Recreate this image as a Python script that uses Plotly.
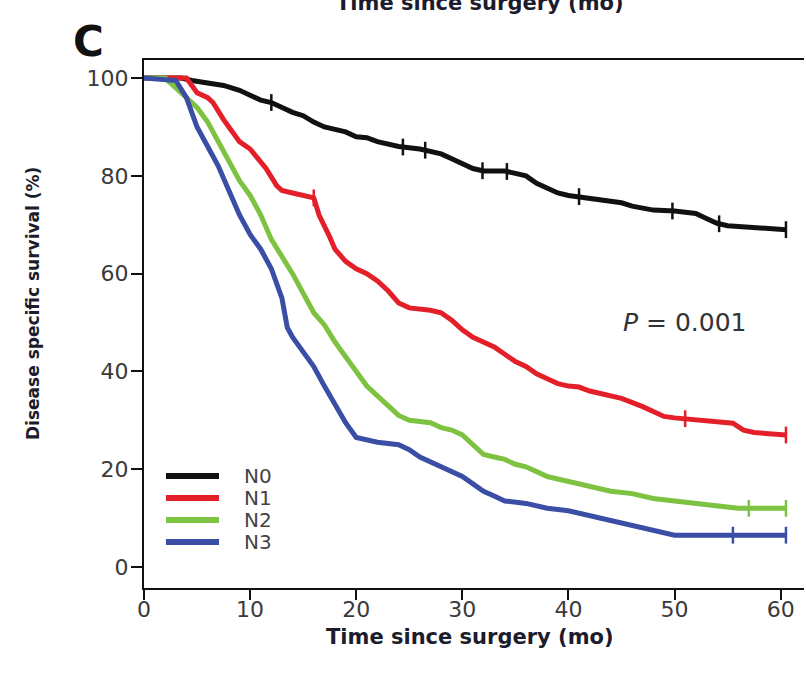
import plotly.graph_objects as go

# Kaplan-Meier estimates of disease specific survival (%) by nodal stage
n0_t = [0, 2, 3.5, 4.5, 6, 7.5, 9, 10, 11, 12, 13, 14, 15, 16, 17, 18, 19, 20, 21, 22, 23, 24,
        26, 27, 28, 29, 30, 31, 32, 34, 35, 36, 37, 38, 39, 40, 42, 44, 45, 46, 47, 48, 50, 51,
        52, 53, 54, 55, 57, 58, 60.5]
n0_s = [100, 100, 100, 99.5, 99, 98.5, 97.5, 96.5, 95.5, 95, 94, 93, 92.3, 91, 90, 89.5, 89, 88,
        87.8, 87, 86.5, 86, 85.5, 85, 84.5, 83.5, 82.5, 81.5, 81, 81, 80.5, 80, 78.5, 77.5, 76.5,
        76, 75.5, 75, 74.5, 73.8, 73.5, 73, 72.8, 72.5, 72.3, 71.3, 70.3, 69.8, 69.5, 69.2, 69]

n1_t = [0, 4, 5, 6, 6.5, 7, 7.5, 8, 9, 10, 11, 11.5, 12.5, 13, 14, 15, 16, 16.5, 17, 17.5, 18,
        19, 20, 21, 22, 23, 24, 25, 27, 28, 29, 30, 31, 32, 33, 34, 35, 36, 37, 38, 39, 40, 41,
        42, 43, 44, 45, 47, 49, 50, 53, 55.5, 56.5, 57.5, 60.5]
n1_s = [100, 100, 97, 96, 95, 93, 91.5, 90, 87, 85.5, 83, 81.5, 78, 77, 76.5, 76, 75.5, 72, 70,
        67.5, 65, 62.5, 61, 60, 58.5, 56.5, 54, 53, 52.5, 52, 50.5, 48.5, 47, 46, 45, 43.5, 42,
        41, 39.5, 38.5, 37.5, 37, 36.8, 36, 35.5, 35, 34.5, 32.8, 30.8, 30.5, 30, 29.4, 28, 27.5,
        27]

n2_t = [0, 2, 3, 4, 5, 6, 7, 8, 9, 10, 11, 12, 13, 14, 15, 16, 17, 18, 19, 20, 21, 22, 23, 24,
        25, 27, 28, 29, 30, 31, 32, 33, 34, 35, 36, 37, 38, 39, 40, 42, 44, 46, 48, 50, 52, 54,
        56, 60.5]
n2_s = [100, 100, 98, 96, 94, 91, 87, 83, 79, 76, 72, 67, 63.5, 60, 56, 52, 49.5, 46, 43, 40,
        37, 35, 33, 31, 30, 29.5, 28.5, 28, 27, 25, 23, 22.5, 22, 21, 20.5, 19.5, 18.5, 18, 17.5,
        16.5, 15.5, 15, 14, 13.5, 13, 12.5, 12, 12]

n3_t = [0, 3, 4, 4.5, 5, 6, 7, 8, 9, 10, 11, 12, 13, 13.5, 14, 15, 16, 17, 18, 19, 20, 21, 22,
        24, 25, 26, 27, 28, 29, 30, 31, 32, 33, 34, 36, 38, 40, 42, 44, 46, 48, 50, 60.5]
n3_s = [100, 99.5, 96, 93, 90, 86, 82, 77, 72, 68, 65, 61, 55, 49, 47, 44, 41, 37, 33, 29.5,
        26.5, 26, 25.5, 25, 24, 22.5, 21.5, 20.5, 19.5, 18.5, 17, 15.5, 14.5, 13.5, 13, 12, 11.5,
        10.5, 9.5, 8.5, 7.5, 6.5, 6.5]

# censored observations (months)
n0_cens = [12, 24.4, 26.5, 31.9, 34.2, 41, 49.8, 54.2, 60.5]
n1_cens = [16, 51, 60.5]
n2_cens = [57, 60.5]
n3_cens = [55.5, 60.5]

groups = ["N0", "N1", "N2", "N3"]
colors = ["#111111", "#e3202a", "#7ec242", "#3a4ea6"]
times = [n0_t, n1_t, n2_t, n3_t]
surv = [n0_s, n1_s, n2_s, n3_s]
cens = [n0_cens, n1_cens, n2_cens, n3_cens]

p_label = "<i>P</i> = 0.001"
x_title = "Time since surgery (mo)"
y_title = "Disease specific survival (%)"
x_ticks = [0, 10, 20, 30, 40, 50, 60]
y_ticks = [0, 20, 40, 60, 80, 100]

W, H = 806, 684
ML, MR, MT, MB = 144, 2, 60, 96
PW, PH = W - ML - MR, H - MT - MB


def px(x):
    return (x - ML) / PW


def py(y):
    return (H - MB - y) / PH


def surv_at(t_list, s_list, t):
    """Survival read off the curve at time t (linear between estimates)."""
    for i in range(1, len(t_list)):
        if t <= t_list[i]:
            t0, t1 = t_list[i - 1], t_list[i]
            s0, s1 = s_list[i - 1], s_list[i]
            return s0 + (s1 - s0) * (t - t0) / (t1 - t0)
    return s_list[-1]


fig = go.Figure()
for name, col, t, s, c in zip(groups, colors, times, surv, cens):
    fig.add_trace(go.Scatter(x=t, y=s, mode="lines", line=dict(color=col, width=5),
                             name=name, showlegend=False))
    fig.add_trace(go.Scatter(x=c, y=[surv_at(t, s, v) for v in c], mode="markers",
                             marker=dict(symbol="line-ns-open", size=12, color=col,
                                         line=dict(color=col, width=2.5)),
                             showlegend=False, hoverinfo="skip"))

font_main = "DejaVu Sans, Arial, sans-serif"

# legend drawn as short swatches with labels
leg_y = [476, 498, 520, 542]
for name, col, yy in zip(groups, colors, leg_y):
    fig.add_shape(type="line", xref="paper", yref="paper", x0=px(166), x1=px(219),
                  y0=py(yy), y1=py(yy), line=dict(color=col, width=6))
    fig.add_annotation(xref="paper", yref="paper", x=px(242), y=py(yy), text=name,
                       showarrow=False, xanchor="left", yanchor="middle",
                       font=dict(family=font_main, size=20, color="#444444"))

fig.add_annotation(x=45, y=50, text=p_label, showarrow=False, xanchor="left", yanchor="middle",
                   font=dict(family=font_main, size=25, color="#333333"))

# axis titles and panel letter
fig.add_annotation(xref="paper", yref="paper", x=px(470), y=py(637), text=f"<b>{x_title}</b>",
                   showarrow=False, xanchor="center", yanchor="middle",
                   font=dict(family=font_main, size=21, color="#1c1c2c"))
fig.add_annotation(xref="paper", yref="paper", x=px(480), y=py(3), text=f"<b>{x_title}</b>",
                   showarrow=False, xanchor="center", yanchor="middle",
                   font=dict(family=font_main, size=21, color="#1c1c2c"))
fig.add_annotation(xref="paper", yref="paper", x=px(33), y=py(304), text=f"<b>{y_title}</b>",
                   showarrow=False, xanchor="center", yanchor="middle", textangle=-90,
                   font=dict(family=font_main, size=17, color="#1c1c2c"))
fig.add_annotation(xref="paper", yref="paper", x=px(88), y=py(41), text="<b>C</b>",
                   showarrow=False, xanchor="center", yanchor="middle",
                   font=dict(family=font_main, size=42, color="#111111"))

fig.update_layout(
    width=W, height=H,
    margin=dict(l=ML, r=MR, t=MT, b=MB, pad=0),
    paper_bgcolor="white", plot_bgcolor="white",
    font=dict(family=font_main, size=22, color="#3a3a3a"),
    xaxis=dict(range=[0, 62.2], tickvals=x_ticks, ticks="outside", ticklen=10, tickwidth=2,
               tickcolor="#111111", showline=True, linecolor="#111111", linewidth=2,
               mirror=True, showgrid=False, zeroline=False, ticklabelstandoff=-9),
    yaxis=dict(range=[-4.3, 103.7], tickvals=y_ticks, ticks="outside", ticklen=11, tickwidth=2,
               tickcolor="#111111", showline=True, linecolor="#111111", linewidth=2,
               showgrid=False, zeroline=False, ticklabelstandoff=-2),
)

fig.write_html("out.html")
